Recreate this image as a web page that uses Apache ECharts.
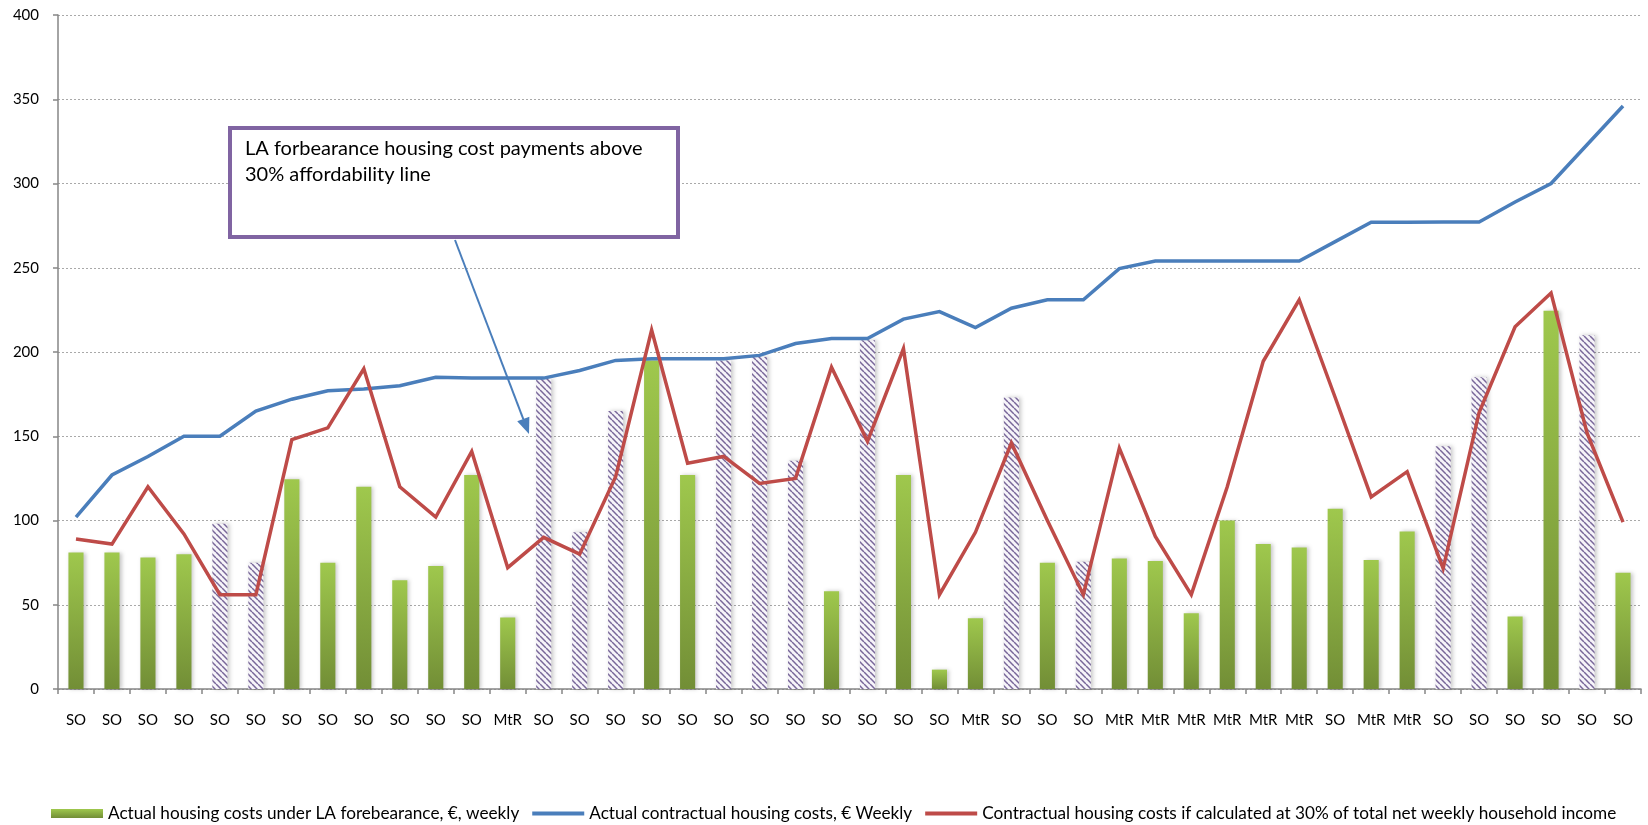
<!DOCTYPE html>
<html>
<head>
<meta charset="utf-8">
<script src="https://cdn.jsdelivr.net/npm/echarts@6.0.0/dist/echarts.min.js"></script>
<style>
  html, body { margin: 0; padding: 0; background: #ffffff; }
  #chart { width: 1648px; height: 825px; }
</style>
</head>
<body>
<div id="chart"></div>
<script>
// Tenure type of each household, in chart order
const tenure = ['SO','SO','SO','SO','SO','SO','SO','SO','SO','SO','SO','SO','MtR','SO','SO','SO','SO','SO','SO','SO','SO','SO','SO','SO','SO','MtR','SO','SO','SO','MtR','MtR','MtR','MtR','MtR','MtR','SO','MtR','MtR','SO','SO','SO','SO','SO','SO'];

// Actual housing costs under LA forbearance, € weekly
const forbearance = [81, 81, 78, 80, 98, 75, 124.5, 75, 120, 64.5, 73, 127, 42.5, 184, 93, 165, 195, 127, 195, 197, 135.5, 58, 207, 127, 11.5, 42, 173, 75, 75.5, 77.5, 76, 45, 100, 86, 84, 107, 76.5, 93.5, 144, 185, 43, 224.5, 210, 69];

// Actual contractual housing costs, € weekly
const contractual = [102, 127, 138, 150, 150, 165, 172, 177, 178, 180, 185, 184.5, 184.5, 184.5, 189, 195, 196, 196, 196, 198, 205, 208, 208, 219.5, 224, 214.5, 226, 231, 231, 249.5, 254, 254, 254, 254, 254, 265.5, 277, 277, 277.2, 277.2, 289, 300, 323, 346];

// Contractual housing costs at 30% of net weekly household income
const affordable30 = [89, 86, 120, 92, 56, 56, 148, 155, 190, 120, 102, 141, 72, 90, 80, 126, 213, 134, 138, 122, 125, 191, 147, 202, 56, 93, 146, 100, 56, 143, 90.5, 56, 120, 194.5, 231, 173, 114, 129, 71.5, 164, 215, 235, 152, 99];

// Value axis ticks
const yMin = 0, yMax = 400, yStep = 50;

const seriesNames = [
  'Actual housing costs under LA forebearance, €, weekly',
  'Actual contractual housing costs, € Weekly',
  'Contractual housing costs if calculated at 30% of total net weekly household income'
];

const FONT = 'Lato, "Liberation Sans", sans-serif';

// Diagonal hatch used for payments above the 30% affordability line
function makeHatch() {
  const c = document.createElement('canvas');
  c.width = 6; c.height = 6;
  const g = c.getContext('2d');
  g.fillStyle = '#f6f4f9';
  g.fillRect(0, 0, 6, 6);
  g.strokeStyle = 'rgba(106,88,142,0.9)';
  g.lineWidth = 1.5;
  for (let k = -6; k <= 6; k += 6) {
    g.beginPath();
    g.moveTo(k, 0);
    g.lineTo(k + 6, 6);
    g.stroke();
  }
  return c;
}
const hatch = { image: makeHatch(), repeat: 'repeat' };

const greenFill = new echarts.graphic.LinearGradient(0, 0, 0, 1, [
  { offset: 0, color: '#9fc84d' },
  { offset: 1, color: '#728e36' }
]);

const barData = forbearance.map((v, i) =>
  v > affordable30[i] ? { value: v, itemStyle: { color: hatch } } : v
);

const chart = echarts.init(document.getElementById('chart'), null, { renderer: 'canvas' });

// Callout box with arrow
const arrowStart = [455, 240], arrowTip = [529, 434];
const dx = arrowTip[0] - arrowStart[0], dy = arrowTip[1] - arrowStart[1];
const len = Math.hypot(dx, dy), ux = dx / len, uy = dy / len;
const headLen = 16, headHalf = 6.5;
const base = [arrowTip[0] - ux * headLen, arrowTip[1] - uy * headLen];

chart.setOption({
  backgroundColor: '#ffffff',
  animation: false,
  textStyle: { fontFamily: FONT },
  grid: { left: 58, right: 7, top: 15, bottom: 136, containLabel: false },
  legend: {
    left: 51,
    top: 805,
    width: 1597,
    padding: 0,
    itemWidth: 52,
    itemHeight: 9,
    itemGap: 11,
    textStyle: { fontFamily: FONT, fontSize: 17.2, color: '#000' },
    data: [
      { name: seriesNames[0], icon: 'rect' },
      { name: seriesNames[1], itemStyle: { opacity: 0 }, lineStyle: { width: 4, color: '#4a7ebb' } },
      { name: seriesNames[2], itemStyle: { opacity: 0 }, lineStyle: { width: 4, color: '#be4b48' } }
    ]
  },
  xAxis: {
    type: 'category',
    data: tenure,
    boundaryGap: true,
    axisLine: { lineStyle: { color: '#868686', width: 1.5 } },
    axisTick: { show: true, length: 5, alignWithLabel: false, lineStyle: { color: '#868686', width: 1.5 } },
    axisLabel: { interval: 0, margin: 24, fontSize: 15, color: '#000', fontFamily: FONT },
    splitLine: { show: false }
  },
  yAxis: {
    type: 'value',
    min: yMin, max: yMax, interval: yStep,
    axisLine: { show: true, lineStyle: { color: '#868686', width: 1.5 } },
    axisTick: { show: true, length: 5, lineStyle: { color: '#868686', width: 1.5 } },
    axisLabel: { margin: 19, fontSize: 15, color: '#000', fontFamily: FONT },
    splitLine: { show: true, lineStyle: { color: '#a9a9a9', width: 1, type: [2, 2] } }
  },
  series: [
    {
      name: seriesNames[0],
      type: 'bar',
      data: barData,
      barWidth: '42%',
      itemStyle: {
        color: greenFill,
        shadowColor: 'rgba(0,0,0,0.22)',
        shadowBlur: 4,
        shadowOffsetX: 2
      },
      z: 2
    },
    {
      name: seriesNames[1],
      type: 'line',
      data: contractual,
      symbol: 'none',
      lineStyle: { color: '#4a7ebb', width: 3.5, join: 'miter' },
      itemStyle: { color: '#4a7ebb' },
      z: 3
    },
    {
      name: seriesNames[2],
      type: 'line',
      data: affordable30,
      symbol: 'none',
      lineStyle: { color: '#be4b48', width: 3.5, join: 'miter' },
      itemStyle: { color: '#be4b48' },
      z: 4
    }
  ],
  graphic: [
    {
      type: 'rect',
      z: 100,
      shape: { x: 230, y: 128, width: 448, height: 109 },
      style: { fill: '#ffffff', stroke: '#8064a2', lineWidth: 4 }
    },
    {
      type: 'text',
      z: 101,
      x: 245, y: 136,
      style: {
        text: 'LA forbearance housing cost payments above\n30% affordability line',
        font: '20px ' + FONT,
        fill: '#000',
        lineHeight: 26,
        verticalAlign: 'top'
      }
    },
    {
      type: 'line',
      z: 100,
      shape: { x1: arrowStart[0], y1: arrowStart[1], x2: base[0], y2: base[1] },
      style: { stroke: '#4a7ebb', lineWidth: 2 }
    },
    {
      type: 'polygon',
      z: 100,
      shape: {
        points: [
          arrowTip,
          [base[0] - uy * headHalf, base[1] + ux * headHalf],
          [base[0] + uy * headHalf, base[1] - ux * headHalf]
        ]
      },
      style: { fill: '#4a7ebb' }
    }
  ]
});
</script>
</body>
</html>
